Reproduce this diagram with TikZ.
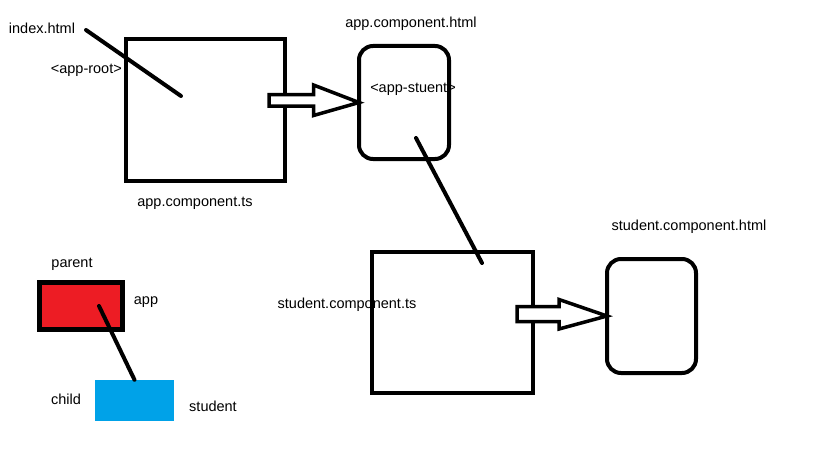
\documentclass[tikz,border=0pt]{standalone}
\usepackage{fontspec}
\setmainfont{Liberation Sans}
\usetikzlibrary{positioning}
\definecolor{parentred}{HTML}{ED1C24}
\definecolor{childblue}{HTML}{00A2E8}

\tikzset{
  box/.style={draw, line width=4pt, inner sep=0pt, outer sep=0pt},
  roundbox/.style={box, rounded corners=14pt},
  wire/.style={line width=4pt, line cap=round},
  blockarrow/.style={draw, line width=3.5pt, line join=miter, fill=white},
  lbl/.style={inner sep=0pt, font=\fontsize{14.5}{16}\selectfont}
}

\begin{document}
\begin{tikzpicture}[x=1pt, y=-1pt]
  \useasboundingbox (0,0) rectangle (819,460);

  % Komponenta app
  \node[box, minimum width=159pt, minimum height=142pt] (appts) at (205.5,110) {};
  \node[lbl] (appname) at (195,203) {app.component.ts};
  \node[lbl] (indexhtml) at (42,28) {index.html};
  \node[lbl, anchor=east] (approot) at (122,70) {<app-root>};
  \coordinate (indexstart) at (86,30);
  \coordinate (rootend) at (181,96);
  \draw[wire] (indexstart) -- (rootend);

  % Sablona app
  \node[roundbox, minimum width=90pt, minimum height=113pt] (apphtml) at (404,102.5) {};
  \node[lbl] (apphtmlname) at (411,24) {app.component.html};
  \node[lbl] (appstuent) at (413,89) {<app-stuent>};
  \draw[blockarrow] (269,94.5) -- (313.5,94.5) -- (313.5,85) -- (apphtml.west)
    -- (313.5,115.5) -- (313.5,106) -- (269,106) -- cycle;

  % Komponenta student
  \node[box, minimum width=161pt, minimum height=141pt] (studentts) at (452.5,322.5) {};
  \node[lbl] (studentname) at (347,305) {student.component.ts};
  \coordinate (stuentstart) at (416,138);
  \coordinate (studentend) at (482,263);
  \draw[wire] (stuentstart) -- (studentend);

  % Sablona student
  \node[roundbox, minimum width=89pt, minimum height=114pt] (studenthtml) at (651.5,316) {};
  \node[lbl] (studenthtmlname) at (689,227) {student.component.html};
  \draw[blockarrow] (517,306.5) -- (559,306.5) -- (559,299.5) -- (studenthtml.west)
    -- (559,329) -- (559,321.5) -- (517,321.5) -- cycle;

  % Legenda
  \node[box, line width=5pt, fill=parentred, minimum width=83pt, minimum height=47pt] (parentbox) at (80.5,305.5) {};
  \node[fill=childblue, inner sep=0pt, minimum width=79pt, minimum height=41pt] (childbox) at (134.5,400.5) {};
  \node[lbl] (parentlbl) at (72,264) {parent};
  \node[lbl] (applbl) at (146,302) {app};
  \node[lbl] (childlbl) at (66,399) {child};
  \node[lbl] (studentlbl) at (213,406) {student};
  \coordinate (parentstart) at (99,306);
  \draw[wire] (parentstart) -- (childbox.north);
\end{tikzpicture}
\end{document}
